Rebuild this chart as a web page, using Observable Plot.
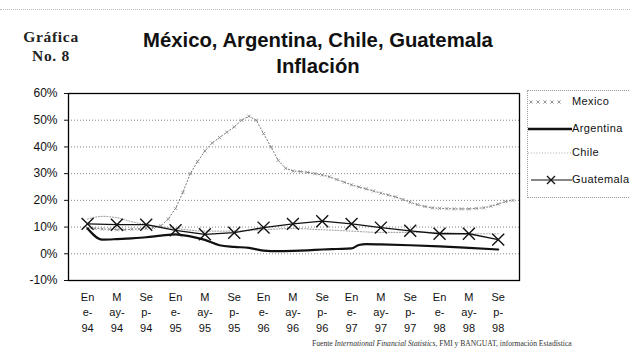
<!DOCTYPE html>
<html><head><meta charset="utf-8">
<script src="https://cdn.jsdelivr.net/npm/d3@7"></script>
<script src="https://cdn.jsdelivr.net/npm/@observablehq/plot@0.6"></script>
<style>
body{margin:0;background:#fff;}
#wrap{position:relative;width:630px;height:351px;overflow:hidden;font-family:"Liberation Sans",Arial,sans-serif;background:#fff;}
#chart{position:absolute;left:0;top:0;}
.t{position:absolute;white-space:nowrap;}
#graf{left:0;width:102px;top:28px;text-align:center;font-family:"Liberation Serif","Times New Roman",serif;font-weight:bold;font-size:15.5px;letter-spacing:0.7px;line-height:18.5px;color:#222;}
#title{left:118px;width:400px;top:27px;text-align:center;font-weight:bold;font-size:20.3px;line-height:26px;color:#111;}
#legend{position:absolute;left:527px;top:90px;width:110px;height:106px;border:1px dotted #999;}
.li{position:absolute;left:0;height:16px;}
.li svg{position:absolute;left:0;top:0;}
.li span{position:absolute;left:44px;top:1px;font-size:11px;letter-spacing:0.4px;color:#111;}
#src{left:312px;top:339px;font-family:"Liberation Serif","Times New Roman",serif;font-size:7.6px;color:#333;}
#topline{position:absolute;left:0;top:9px;width:630px;border-top:1px dotted #bbb;}
</style></head><body>
<div id="wrap">
<div id="topline"></div>
<div id="chart"></div>
<div class="t" id="graf">Gráfica<br>No. 8</div>
<div class="t" id="title">México, Argentina, Chile, Guatemala<br>Inflación</div>
<div id="legend"></div>
<div class="t" id="src">Fuente <i>International Financial Statistics</i>, FMI y BANGUAT, información Estadística</div>
</div>
<script>
// x: months since Jan 1994
const tickMonths = [0,4,8,12,16,20,24,28,32,36,40,44,48,52,56];
const tickLabels = ["En\ne-\n94","M\nay-\n94","Se\np-\n94","En\ne-\n95","M\nay-\n95","Se\np-\n95","En\ne-\n96","M\nay-\n96","Se\np-\n96","En\ne-\n97","M\nay-\n97","Se\np-\n97","En\ne-\n98","M\nay-\n98","Se\np-\n98"];
const yTicks = [-10,0,10,20,30,40,50,60];
const gridValues = [0,10,20,30,40,50];

// Mexico, monthly Jan 94 .. Nov 98 (%)
const mexicoValues = [9.5,9.5,9.3,9.2,9.0,9.0,9.2,9.3,9.5,9.8,10.5,13,17,23,30,34.5,38.5,41.5,43.5,45.5,47.5,50,51.5,50,45,40,35,32,31,30.8,30.5,30,29.5,28.8,27.8,26.8,25.8,25,24.3,23.5,22.7,22,21.3,20.3,19.3,18.4,17.7,17.2,17,16.9,16.8,16.8,16.8,17,17.2,17.8,18.6,19.6,20];

// Argentina
const argentinaMonths = [0,2,4,6,8,10,12,14,16,18,20,22,24,26,28,30,32,34,36,37,38,40,44,48,52,56];
const argentinaValues = [9.5,5.3,5.5,5.8,6.2,6.8,7.3,6.5,5.2,3.2,2.6,2.2,1.2,1.0,1.1,1.3,1.6,1.8,2.0,3.3,3.6,3.5,3.2,2.8,2.2,1.6];

// Chile
const chileMonths = [0,2,4,6,8,12,16,20,24,28,32,36,40,44,48,52,56];
const chileValues = [13,14,13.5,12,11,9.5,8.5,8.5,9,9.5,9,8.5,8,8,8,7.5,7.5];

// Guatemala (every 4 months)
const guatemalaValues = [11.2,10.9,10.9,8.8,7.3,7.9,9.8,11.2,12.2,11.2,9.8,8.6,7.5,7.5,5.3];

const mexico = mexicoValues.map((v,i)=>({m:i,v}));
const argentina = argentinaMonths.map((m,i)=>({m,v:argentinaValues[i]}));
const chile = chileMonths.map((m,i)=>({m,v:chileValues[i]}));
const guatemala = tickMonths.map((m,i)=>({m,v:guatemalaValues[i]}));

const chart = Plot.plot({
  width:630, height:351,
  marginLeft:68, marginRight:111, marginTop:93, marginBottom:71,
  style:{fontFamily:"Liberation Sans, Arial, sans-serif", background:"transparent"},
  x:{type:"linear", domain:[-2.6,58.9]},
  y:{domain:[-10,60]},
  marks:[
    Plot.ruleY(gridValues,{stroke:"#777",strokeDasharray:"1,2",strokeWidth:0.9}),
    Plot.line(chile,{x:"m",y:"v",stroke:"#aaa",strokeWidth:1.2,strokeDasharray:"1,1.8",curve:"monotone-x"}),
    Plot.line(mexico,{x:"m",y:"v",stroke:"#777",strokeWidth:1,strokeDasharray:"1.2,2.2"}),
    Plot.dot(mexico,{x:"m",y:"v",symbol:"times",r:1.6,stroke:"#888",strokeWidth:0.8}),
    Plot.line(argentina,{x:"m",y:"v",stroke:"#111",strokeWidth:2.2,curve:"monotone-x"}),
    Plot.line(guatemala,{x:"m",y:"v",stroke:"#111",strokeWidth:1.3}),
    Plot.dot(guatemala,{x:"m",y:"v",symbol:"times",r:5.5,stroke:"#111",strokeWidth:1.4}),
    Plot.frame({stroke:"#000",strokeWidth:1.3}),
    Plot.axisY({ticks:yTicks,tickFormat:d=>d+"%",tickSize:4,tickPadding:7,fontSize:12,label:null,color:"#111"}),
    Plot.axisX({ticks:tickMonths,tickFormat:(d,i)=>tickLabels[i],tickSize:0,tickPadding:10,fontSize:11,lineHeight:1.38,label:null,color:"#111"})
  ]
});
document.getElementById("chart").appendChild(chart);

// Legend
const legend = document.getElementById("legend");
const items = [
  {name:"Mexico", top:3, svg:'<svg width="44" height="16"><g stroke="#888" stroke-width="0.9">'+[3,10,17,24,31].map(x=>`<path d="M${x-1.6},${8-1.6}L${x+1.6},${8+1.6}M${x-1.6},${8+1.6}L${x+1.6},${8-1.6}"/>`).join("")+'</g></svg>'},
  {name:"Argentina", top:30, svg:'<svg width="44" height="16"><line x1="0" x2="44" y1="8" y2="8" stroke="#111" stroke-width="2.4"/></svg>'},
  {name:"Chile", top:54, svg:'<svg width="44" height="16"><line x1="0" x2="44" y1="8" y2="8" stroke="#aaa" stroke-width="1.2" stroke-dasharray="1,1.8"/></svg>'},
  {name:"Guatemala", top:81, svg:'<svg width="44" height="16"><line x1="3" x2="44" y1="8" y2="8" stroke="#111" stroke-width="1.2"/><path d="M19,4L27,12M19,12L27,4" stroke="#111" stroke-width="1.3"/></svg>'}
];
for (const it of items){
  const d=document.createElement("div");
  d.className="li"; d.style.top=it.top+"px";
  d.innerHTML=it.svg+`<span>${it.name}</span>`;
  legend.appendChild(d);
}
</script>
</body></html>
